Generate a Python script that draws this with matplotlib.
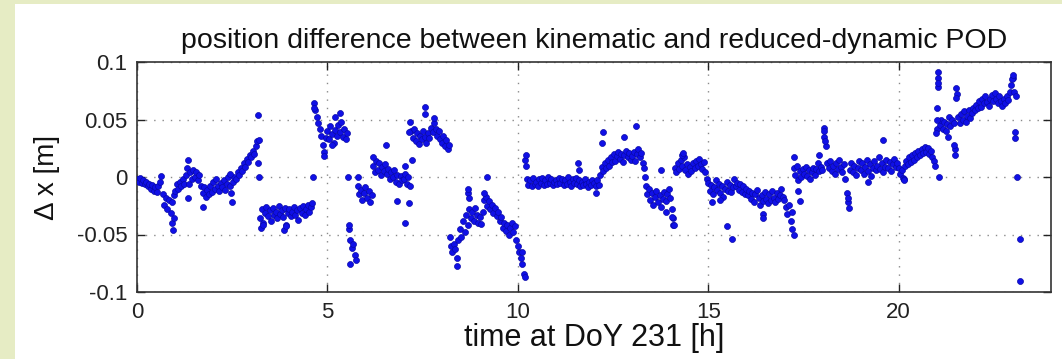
import numpy as np
import matplotlib
matplotlib.use("Agg")
import matplotlib.pyplot as plt
from matplotlib.patches import Rectangle

# ---- data -----------------------------------------------------------------
sample_step_h = 0.04          # regular sampling of the main series (hours)
# position difference in mm, one row per hour (25 samples / hour)
dx_mm = [
    # 0 h
    -2, -4, -1, -5, -3, -6, -4, -8, -6, -10, -7, -12, -9, -13, -8, -4, 1, -15, -24, -18, -28, -20, -31, -22, -16,
    # 1 h
    -12, -6, -10, -4, -8, -2, -6, 2, 8, -6, 4, -2, 6, 0, 4, -3, 2, -8, -14, -9, -17, -11, -15, -8, -13,
    # 2 h
    -4, -10, -2, -8, -12, -5, -9, -3, -11, -6, 0, -8, -14, -4, 0, -2, 4, 2, 8, 5, 12, 9, 16, 13, 19,
    # 3 h
    17, 23, 20, 27, 31, 32, -36, -28, -40, -31, -26, -34, -29, -38, -27, -33, -30, -36, -25, -32, -29, -35, -27, -42, -31,
    # 4 h
    -28, -34, -30, -26, -33, -29, -37, -27, -31, -25, -33, -28, -24, -30, -26, -23, 64, 58, 52, 47, 42, 36, 28, 22, 34,
    # 5 h
    40, 33, 44, 37, 30, 41, 36, 45, 39, 48, 35, 42, 33, 38, -45, -55, -62, -58, -68, -72, -8, -15, -11, -20, -14,
    # 6 h
    -9, -18, -12, -22, -16, 10, 4, 14, 6, 12, 2, 9, 5, 11, 3, 7, -2, 4, 0, 6, -4, 2, -6, 1, -3,
    # 7 h
    -2, 3, -6, 0, -8, 40, 34, 42, 31, 38, 29, 36, 33, 40, 35, 30, 38, 34, 43, 39, 47, 42, 36, 40, 33,
    # 8 h
    30, 36, 27, 32, 24, 28, -60, -65, -58, -63, -70, -55, -45, -52, -38, -48, -33, -42, -28, -36, -30, -38, -27, -33, -40,
    # 9 h
    -35, -41, -30, -20, -17, -25, -21, -28, -24, -31, -27, -34, -30, -38, -35, -44, -40, -47, -42, -50, -44, -40, -48, -43, -55,
    # 10 h
    -60, -65, -70, -76, -84, 15, -2, -7, -3, -8, -1, -6, -4, -8, -2, -5, -1, -7, -3, -6, 0, -5, -2, -7, -4,
    # 11 h
    -3, -6, -1, -5, -2, -7, -3, -6, 0, -4, -8, -2, -5, -1, -6, -3, -8, -4, -7, -2, -6, -9, -4, -7, -3,
    # 12 h
    -5, -8, -3, -7, 2, 9, 5, 12, 8, 15, 10, 17, 13, 20, 14, 18, 22, 16, 20, 13, 19, 23, 17, 21, 15,
    # 13 h
    18, 22, 14, 20, 24, 17, 21, 12, 8, -8, -15, -10, -20, -14, -24, -17, -12, -22, -16, -26, -19, -13, -21, -15, -10,
    # 14 h
    -18, -28, -36, 8, 4, 12, 7, 15, 10, 17, 6, 11, 3, 9, 5, 12, 8, 14, 10, 16, 11, 7, 13, 4, -2,
    # 15 h
    -5, -12, -7, -15, -9, -3, -11, -6, -14, -8, -17, -10, -4, -12, -7, -13, -9, -2, -8, -5, -11, -6, -13, -8, -15,
    # 16 h
    -10, -16, -12, -19, -14, -22, -15, -11, -18, -24, -16, -21, -13, -19, -23, -15, -20, -12, -18, -22, -14, -19, -16, -10, -17,
    # 17 h
    -20, -26, -32, -24, -38, -30, 8, 2, 10, -3, 5, 0, 7, 3, 9, 1, 6, -2, 4, 8, 2, 7, 12, 5, 9,
    # 18 h
    6, 35, 27, 12, 8, 14, 5, 10, 3, 12, 7, 15, 9, 4, 11, -2, -14, -22, 6, 12, 4, 10, 2, 8, 14,
    # 19 h
    6, 12, 3, 9, 15, 5, 11, 1, 8, 14, 6, 10, 17, 7, 12, 4, 9, 15, 8, 13, 5, 11, 16, 9, 12,
    # 20 h
    8, 3, 6, -1, 10, 14, 11, 17, 13, 19, 15, 21, 17, 23, 19, 24, 21, 26, 22, 25, 20, 23, 17, 14, 10,
    # 21 h
    42, 78, 45, 50, 42, 48, 40, 46, 52, 44, 50, 47, 24, 72, 52, 47, 55, 50, 57, 48, 53, 58, 51, 56, 60,
    # 22 h
    58, 63, 60, 66, 61, 68, 64, 70, 65, 62, 68, 71, 66, 73, 68, 64, 70, 66, 62, 68, 64, 70, 67, 74, 80,
    # 23 h
    86, 74, 70,
]

# isolated points (time h, difference mm)
out_t = [0.93, 0.95, 0.98, 1.34, 1.35, 1.73, 2.43, 2.50, 3.18, 3.19, 3.20, 3.26, 3.30, 3.86, 3.90,
         4.62, 4.65, 4.90, 5.13, 5.20, 5.34, 5.53, 5.57, 5.58, 5.79, 6.20, 6.53, 6.84,
         7.03, 7.05, 7.13, 7.13, 7.18, 7.21, 7.55, 7.57, 7.80, 8.21, 8.40, 8.68, 8.70, 8.72,
         9.12, 9.20, 10.10, 10.18, 10.21, 10.22, 11.58, 11.60, 12.05, 12.22, 12.24, 12.80, 13.10,
         13.35, 13.76, 13.90, 14.06, 14.08, 14.10, 14.30, 14.34, 15.10, 15.30, 15.50, 15.63,
         16.43, 16.45, 17.20, 17.24, 17.24, 17.35, 17.40, 17.90, 18.04, 18.05, 18.07, 18.66, 18.70,
         19.20, 19.60, 20.13, 20.15, 20.98, 21.00, 21.00, 21.02, 21.03, 21.04, 21.05, 21.30,
         21.46, 21.47, 21.50, 21.50, 22.98, 23.00, 23.05, 23.06, 23.10, 23.18, 23.18]
out_mm = [-40, -46, -36, 15, -18, -26, 3, -22, 54, 12, 0, -44, -42, -46, -43,
          0, 60, 18, 28, 52, 56, 0, -42, -76, 0, 17, 28, -21,
          -40, 10, -23, 39, 48, 15, 61, 55, 51, -52, -77, -14, -10, -18,
          -14, 0, -65, -87, 19, 10, 12, 6, -14, 30, 39, 35, 44,
          0, 6, -30, -35, -42, -42, 19, 21, -22, -20, -43, -54,
          -32, -36, -45, -50, 17, -12, -21, 19, 43, 40, 31, -18, -27,
          -4, 32, -2, -3, 38, 50, 60, 91, 86, 82, 0, 35,
          28, 19, 69, 77, 85, 89, 39, 34, 0, -54, -90]

title = "position difference between kinematic and reduced-dynamic POD"
xlabel = "time at DoY 231 [h]"
ylabel = "\u0394 x [m]"
xticks = [0, 5, 10, 15, 20]
yticks = [-0.1, -0.05, 0, 0.05, 0.1]
ytick_labels = ["-0.1", "-0.05", "0", "0.05", "0.1"]

# ---- figure ---------------------------------------------------------------
plt.rcParams['font.family'] = ['Liberation Sans', 'DejaVu Sans']
W, H = 1062, 359
fig = plt.figure(figsize=(W / 100, H / 100), dpi=100, facecolor='#e6ecc4')
panel = Rectangle((15 / W, 0), 1 - 15 / W, 1 - 4 / H, transform=fig.transFigure,
                  facecolor='white', edgecolor='none', zorder=-10)
fig.add_artist(panel)

ax = fig.add_axes([137 / W, 1 - 292 / H, (1051 - 137) / W, (292 - 62) / H])
ax.set_zorder(5)
ax.set_facecolor('white')

t_main = np.arange(len(dx_mm)) * sample_step_h
y_main = np.array(dx_mm) / 1000.0
mk = dict(linestyle='none', marker='o', ms=4.3, mfc='#1010e6', mec='#0808a8', mew=0.5)
ax.plot(t_main, y_main, **mk, zorder=3)
ax.plot(out_t, np.array(out_mm) / 1000.0, **mk, zorder=3)

ax.set_xlim(0, 24)
ax.set_ylim(-0.1, 0.1)
ax.set_xticks(xticks)
ax.set_yticks(yticks)
ax.set_yticklabels(ytick_labels)
ax.grid(True, color='#8a8a8a', linestyle=(0, (1, 5)), linewidth=1.0)
ax.set_axisbelow(True)
ax.tick_params(direction='in', length=6, width=1, top=True, right=True,
               labelsize=16, colors='#222222', pad=7)
for s in ax.spines.values():
    s.set_color('#333333')
    s.set_linewidth(1.2)

ax.set_title(title, fontsize=20.5, color='#111111', pad=10)
ax.set_xlabel(xlabel, fontsize=22, color='#111111', labelpad=0)
ax.set_ylabel(ylabel, fontsize=20, color='#111111', labelpad=12)

fig.savefig("out.png", dpi=100, facecolor=fig.get_facecolor())
